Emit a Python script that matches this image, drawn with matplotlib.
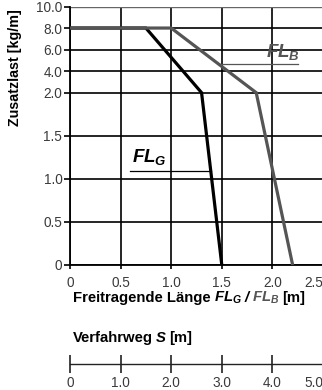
import numpy as np
import matplotlib
matplotlib.use("Agg")
import matplotlib.pyplot as plt

plt.rcParams["font.family"] = ["Liberation Sans", "DejaVu Sans"]
plt.rcParams["mathtext.fontset"] = "custom"
plt.rcParams["mathtext.it"] = "Liberation Sans:italic:bold"
plt.rcParams["mathtext.rm"] = "Liberation Sans:bold"
plt.rcParams["mathtext.bf"] = "Liberation Sans:bold"

# Load curves: cantilever length [m] vs. additional load [kg/m]
length_fl_g = [0.0, 0.75, 1.30, 1.50]
load_fl_g = [8.0, 8.0, 2.0, 0.0]
length_fl_b = [0.0, 1.00, 1.84, 2.20]
load_fl_b = [8.0, 8.0, 2.0, 0.0]

load_ticks = [0, 0.5, 1.0, 1.5, 2.0, 4.0, 6.0, 8.0, 10.0]
load_tick_labels = ["0", "0.5", "1.0", "1.5", "2.0", "4.0", "6.0", "8.0", "10.0"]
length_ticks = [0, 0.5, 1.0, 1.5, 2.0, 2.5]
length_tick_labels = ["0", "0.5", "1.0", "1.5", "2.0", "2.5"]
travel_ticks = [0, 1, 2, 3, 4, 5]
travel_tick_labels = ["0", "1.0", "2.0", "3.0", "4.0", "5.0"]

GRAY = "#555555"
TICK_COLOR = "#3a3a3a"
W, H, DPI = 322, 390, 100


def load_fwd(y):
    # 0..2 kg/m drawn on a stretched scale, 2..10 kg/m compressed
    y = np.asarray(y, dtype=float)
    return np.where(y <= 2.0, 2.0 * y, 4.0 + (y - 2.0) / 4.0)


def load_inv(u):
    u = np.asarray(u, dtype=float)
    return np.where(u <= 4.0, u / 2.0, 2.0 + (u - 4.0) * 4.0)


fig = plt.figure(figsize=(W / DPI, H / DPI), dpi=DPI)
ax = fig.add_axes([70 / W, (H - 265) / H, 253 / W, 258.5 / H])
ax.set_yscale("function", functions=(load_fwd, load_inv))
ax.set_xlim(0, 2.5)
ax.set_ylim(0, 10)
ax.set_xticks(length_ticks)
ax.set_xticklabels(length_tick_labels)
ax.set_yticks(load_ticks)
ax.set_yticklabels(load_tick_labels)
ax.minorticks_off()
ax.set_axisbelow(True)
ax.grid(True, color="black", lw=1.2)
for sp in ("top", "right"):
    ax.spines[sp].set_visible(False)
for sp in ("left", "bottom"):
    ax.spines[sp].set_linewidth(1.3)
ax.yaxis.get_gridlines()[-1].set_color("#666666")
ax.yaxis.get_gridlines()[-1].set_linewidth(1.0)

TICK_SIZE = 9.8
ax.tick_params(axis="y", length=4, width=1.2, pad=1.5, labelsize=TICK_SIZE,
               labelcolor=TICK_COLOR)
ax.tick_params(axis="x", length=3, width=1.2, pad=5.0, labelsize=TICK_SIZE,
               labelcolor=TICK_COLOR)
ax.get_xticklabels()[-1].set_horizontalalignment("right")

ax.plot(length_fl_g, load_fl_g, color="black", lw=2.3,
        solid_joinstyle="miter", solid_capstyle="butt", zorder=3)
ax.plot(length_fl_b, load_fl_b, color=GRAY, lw=2.3,
        solid_joinstyle="miter", solid_capstyle="butt", zorder=4)

# Curve names with leader lines
g_lead_y = 1.09
g_lead_x = np.interp(g_lead_y, load_fl_g[::-1], length_fl_g[::-1])
ax.plot([0.59, g_lead_x], [g_lead_y, g_lead_y], color="black", lw=0.9, zorder=3)
ax.text(0.61, 1.19, r"$FL_G$", fontsize=13.5, color="black", va="baseline")

b_lead_y = 4.65
b_lead_x = np.interp(b_lead_y, load_fl_b[::-1], length_fl_b[::-1])
ax.plot([b_lead_x, 2.253], [b_lead_y, b_lead_y], color=GRAY, lw=0.9, zorder=3)
ax.text(1.937, 5.30, r"$FL_B$", fontsize=13.5, color=GRAY, va="baseline")

# Travel distance scale
ax2 = fig.add_axes([70 / W, (H - 364) / H, 253 / W, 0.0005])
ax2.set_xlim(0, 5)
ax2.set_xticks(travel_ticks)
ax2.set_xticklabels(travel_tick_labels)
ax2.set_yticks([])
ax2.patch.set_visible(False)
for sp in ("top", "left", "right"):
    ax2.spines[sp].set_visible(False)
ax2.spines["bottom"].set_linewidth(1.0)
ax2.spines["bottom"].set_color("#222222")
ax2.tick_params(axis="x", direction="inout", length=13, width=1.2,
                color="#222222", pad=2.3, labelsize=TICK_SIZE,
                labelcolor=TICK_COLOR)
ax2.get_xticklabels()[-1].set_horizontalalignment("right")

# Axis titles
LABEL_SIZE = 10.7
fig.text(15 / W, 1 - 68 / H, "Zusatzlast [kg/m]", rotation=90, ha="center",
         va="center", fontsize=10.3, fontweight="bold")

renderer = fig.canvas.get_renderer()


def text_run(x_px, base_px, parts, gap=3.0):
    x = x_px
    for s, kw in parts:
        t = fig.text(x / W, 1 - base_px / H, s, ha="left", va="baseline",
                     fontsize=LABEL_SIZE, **kw)
        bb = t.get_window_extent(renderer)
        x = bb.x1 + gap


text_run(73, 302, [
    ("Freitragende Länge", dict(fontweight="bold")),
    (r"$FL_G$", dict(color="black")),
    ("/", dict(fontweight="bold", fontstyle="italic")),
    (r"$FL_B$", dict(color=GRAY)),
    ("[m]", dict(fontweight="bold")),
])
text_run(73, 342, [
    ("Verfahrweg", dict(fontweight="bold")),
    ("S", dict(fontweight="bold", fontstyle="italic")),
    ("[m]", dict(fontweight="bold")),
])

fig.savefig("out.png", dpi=DPI)
